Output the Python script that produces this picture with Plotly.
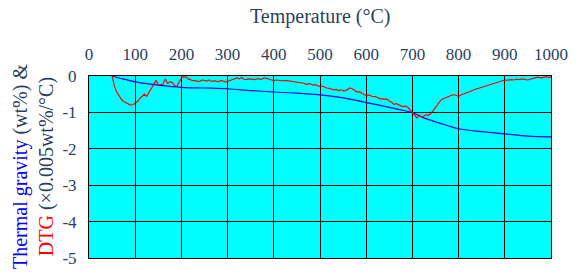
import plotly.graph_objects as go

# ---- data ----
temp_dtg = list(range(50, 1001, 5))
dtg = [
    0.00, -0.28, -0.44, -0.55, -0.64, -0.70, -0.74, -0.78, -0.80, -0.79,
    -0.75, -0.70, -0.62, -0.57, -0.50, -0.56, -0.45, -0.34, -0.22, -0.12,
    -0.25, -0.24, -0.22, -0.08, -0.20, -0.16, -0.17, -0.26, -0.29, -0.17,
    -0.06, -0.02, -0.03, -0.08, -0.10, -0.13, -0.12, -0.15, -0.14, -0.11,
    -0.12, -0.14, -0.11, -0.15, -0.13, -0.14, -0.16, -0.12, -0.15, -0.16,
    -0.15, -0.13, -0.11, -0.09, -0.05, -0.08, -0.04, -0.09, -0.10, -0.08,
    -0.09, -0.11, -0.10, -0.07, -0.09, -0.08, -0.05, -0.07, -0.09, -0.11,
    -0.13, -0.11, -0.12, -0.14, -0.13, -0.12, -0.13, -0.14, -0.15, -0.14,
    -0.16, -0.18, -0.17, -0.20, -0.23, -0.21, -0.22, -0.25, -0.24, -0.27,
    -0.29, -0.28, -0.31, -0.33, -0.34, -0.36, -0.38, -0.37, -0.40, -0.38,
    -0.41, -0.40, -0.37, -0.33, -0.35, -0.40, -0.44, -0.43, -0.47, -0.51,
    -0.54, -0.52, -0.55, -0.57, -0.56, -0.60, -0.63, -0.62, -0.64, -0.63,
    -0.69, -0.72, -0.78, -0.76, -0.80, -0.82, -0.84, -0.83, -0.86, -0.93,
    -1.00, -1.08, -1.15, -1.09, -1.12, -1.10, -1.06, -1.08, -1.03, -0.95,
    -0.86, -0.78, -0.69, -0.63, -0.60, -0.58, -0.55, -0.53, -0.51, -0.54,
    -0.56, -0.52, -0.50, -0.47, -0.44, -0.42, -0.40, -0.37, -0.35, -0.33,
    -0.31, -0.28, -0.26, -0.24, -0.22, -0.19, -0.18, -0.16, -0.15, -0.13,
    -0.12, -0.11, -0.12, -0.10, -0.11, -0.09, -0.10, -0.09, -0.08, -0.10,
    -0.11, -0.09, -0.06, -0.05, -0.03, -0.04, -0.05, -0.03, -0.02, -0.04,
    -0.03,
]

temp_tg = [50, 60, 80, 100, 125, 150, 200, 250, 300, 350, 400, 450, 500,
           550, 600, 650, 675, 700, 725, 750, 775, 800, 850, 900, 950, 1000]
tg = [0.00, -0.04, -0.10, -0.16, -0.21, -0.25, -0.31, -0.33, -0.35, -0.40,
      -0.44, -0.47, -0.52, -0.60, -0.73, -0.86, -0.93, -1.01, -1.15, -1.26,
      -1.36, -1.45, -1.53, -1.59, -1.65, -1.67]

x_ticks = list(range(0, 1001, 100))
y_ticks = [0, -1, -2, -3, -4, -5]
y_tick_labels = ["0", "-1", "-2", "-3", "-4", "-5"]

FONT = "Liberation Serif"

fig = go.Figure()
fig.add_trace(go.Scatter(x=temp_tg, y=tg, mode="lines",
                         line=dict(color="#0000FF", width=1.2), line_shape="spline",
                         showlegend=False))
fig.add_trace(go.Scatter(x=temp_dtg, y=dtg, mode="lines",
                         line=dict(color="#FF0000", width=1.2),
                         showlegend=False))

fig.update_layout(
    width=580, height=280,
    margin=dict(l=89, r=29, t=76, b=15),
    paper_bgcolor="#FFFFFF",
    plot_bgcolor="#00FFFF",
    xaxis=dict(
        side="top", range=[0, 1000], tickvals=x_ticks,
        showgrid=True, gridcolor="#000000", gridwidth=1,
        showline=True, linecolor="#000000", linewidth=1, mirror=True,
        ticks="", ticklabelstandoff=8, zeroline=False,
        tickfont=dict(family=FONT, size=17),
    ),
    yaxis=dict(
        range=[-5, 0], tickvals=y_ticks, ticktext=y_tick_labels,
        showgrid=True, gridcolor="#000000", gridwidth=1,
        showline=True, linecolor="#000000", linewidth=1, mirror=True,
        ticks="", ticklabelstandoff=8, zeroline=False,
        tickfont=dict(family=FONT, size=17),
    ),
    annotations=[
        dict(text="Temperature (°C)", xref="paper", yref="paper",
             x=0.5, y=1, xanchor="center", yanchor="middle", yshift=60,
             showarrow=False, font=dict(family=FONT, size=20)),
        dict(text="<span style='color:#0000FF'>Thermal gravity</span> (wt%) &amp;<br>"
                  "<span style='color:#FF0000'>DTG</span> (×0.005wt%/°C)",
             xref="paper", yref="paper", x=0, y=0.5,
             xanchor="center", yanchor="middle", xshift=-56,
             textangle=-90, showarrow=False,
             font=dict(family=FONT, size=20)),
    ],
)

fig.write_html("out.html")
